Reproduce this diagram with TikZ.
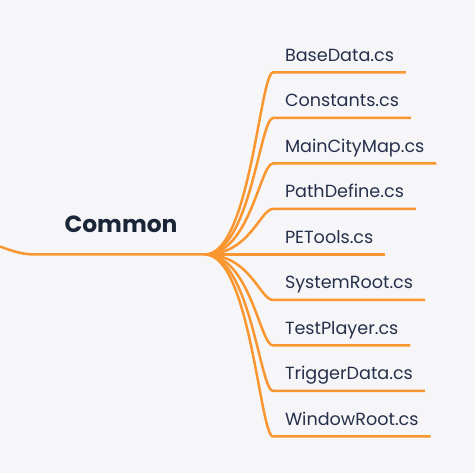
\documentclass[tikz,border=0pt]{standalone}
\usepackage{fontspec}
\setmainfont{Poppins}
\usetikzlibrary{positioning}
\definecolor{mapink}{HTML}{1B2538}
\definecolor{leafink}{HTML}{26304A}
\definecolor{branchorange}{HTML}{F9962F}
\definecolor{mapbg}{HTML}{F6F6F9}
\tikzset{
  leaf/.style={anchor=south west,inner xsep=12pt,inner ysep=11pt,outer sep=0pt,
    text depth=0pt,font=\fontsize{17.6}{20}\selectfont,text=leafink},
  topic/.style={anchor=south west,minimum width=168pt,inner ysep=22pt,outer sep=0pt,
    text depth=0pt,font=\fontsize{23.4}{27}\selectfont\bfseries,text=mapink},
  branch/.style={branchorange,line width=2.5pt}
}

\begin{document}
\begin{tikzpicture}[x=1pt,y=-1pt]
  \fill[mapbg] (0,0) rectangle (475,473);
  \useasboundingbox (0,0) rectangle (475,473);

  \node[topic] (common) at (37,254.5) {Common};
  \coordinate (parent) at (0,246.5);
  \coordinate (hub) at (common.south east);
  \draw[branch] (parent) .. controls (16,252.5) and (24,254.5) .. (common.south west)
    -- (hub);

  \foreach \name/\file/\yy in {basedata/BaseData.cs/72.5,constants/Constants.cs/118,
      maincitymap/MainCityMap.cs/163.5,pathdefine/PathDefine.cs/209,
      petools/PETools.cs/254.5,systemroot/SystemRoot.cs/300,
      testplayer/TestPlayer.cs/345.5,triggerdata/TriggerData.cs/391,
      windowroot/WindowRoot.cs/436.5}{
    \node[leaf] (\name) at (273,\yy) {\file};
    \draw[branch] (hub) .. controls +(45,0) and +(-13,0) .. (\name.south west)
      -- (\name.south east);
  }
\end{tikzpicture}
\end{document}
